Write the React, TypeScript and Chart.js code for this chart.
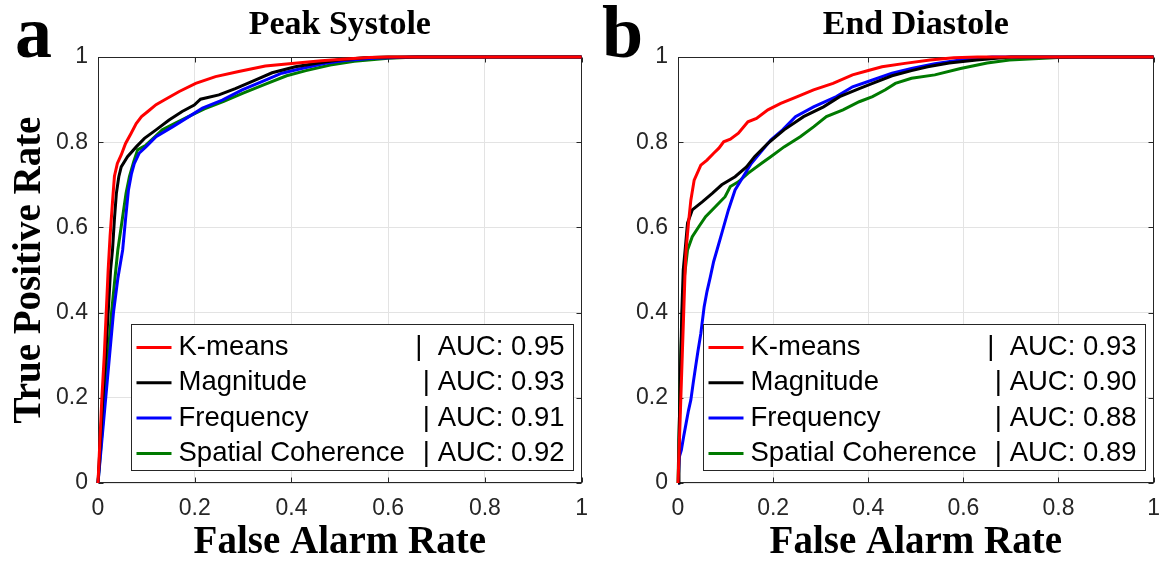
import React, { useEffect, useRef } from 'react';
import { Chart, registerables } from 'chart.js';

Chart.register(...registerables);

// ---------- data ----------
const seriesNames = ['K-means', 'Magnitude', 'Frequency', 'Spatial Coherence'];
const seriesColors = ['#ff0000', '#000000', '#0000ff', '#007a00'];
const tickValues = [0, 0.2, 0.4, 0.6, 0.8, 1];
const tickLabels = ['0', '0.2', '0.4', '0.6', '0.8', '1'];
const panelTitles = ['Peak Systole', 'End Diastole'];
const panelLetters = ['a', 'b'];
const xAxisTitle = 'False Alarm Rate';
const yAxisTitle = 'True Positive Rate';
const psAucLabels = ['|  AUC: 0.95', '| AUC: 0.93', '| AUC: 0.91', '| AUC: 0.92'];
const edAucLabels = ['|  AUC: 0.93', '| AUC: 0.90', '| AUC: 0.88', '| AUC: 0.89'];

// Peak Systole
const psKmeansFpr = [0, 0.004, 0.008, 0.013, 0.017, 0.021, 0.025, 0.03, 0.034, 0.04, 0.048, 0.057, 0.068, 0.079, 0.09, 0.103, 0.12, 0.137, 0.168, 0.202, 0.243, 0.291, 0.346, 0.401, 0.462, 0.52, 0.56, 0.6, 1];
const psKmeansTpr = [0, 0.1, 0.2, 0.3, 0.4, 0.5, 0.58, 0.66, 0.72, 0.75, 0.77, 0.797, 0.82, 0.844, 0.86, 0.872, 0.888, 0.899, 0.919, 0.938, 0.954, 0.966, 0.979, 0.985, 0.991, 0.996, 0.999, 1, 1];
const psMagFpr = [0, 0.005, 0.01, 0.016, 0.021, 0.026, 0.03, 0.034, 0.038, 0.043, 0.048, 0.061, 0.079, 0.096, 0.12, 0.147, 0.174, 0.199, 0.212, 0.25, 0.284, 0.325, 0.36, 0.408, 0.462, 0.497, 0.55, 0.6, 1];
const psMagTpr = [0, 0.1, 0.2, 0.3, 0.4, 0.5, 0.547, 0.62, 0.68, 0.719, 0.742, 0.766, 0.789, 0.809, 0.829, 0.852, 0.872, 0.887, 0.901, 0.911, 0.926, 0.946, 0.963, 0.977, 0.987, 0.993, 0.998, 1, 1];
const psFreqFpr = [0, 0.008, 0.016, 0.024, 0.032, 0.041, 0.051, 0.057, 0.063, 0.069, 0.075, 0.085, 0.099, 0.12, 0.154, 0.188, 0.216, 0.257, 0.298, 0.339, 0.38, 0.421, 0.47, 0.51, 0.57, 0.65, 1];
const psFreqTpr = [0, 0.1, 0.2, 0.3, 0.4, 0.48, 0.547, 0.62, 0.688, 0.725, 0.75, 0.774, 0.789, 0.813, 0.836, 0.86, 0.88, 0.899, 0.923, 0.942, 0.962, 0.973, 0.985, 0.992, 0.997, 1, 1];
const psSpatFpr = [0, 0.007, 0.014, 0.021, 0.028, 0.035, 0.041, 0.051, 0.058, 0.065, 0.074, 0.082, 0.099, 0.118, 0.133, 0.16, 0.19, 0.22, 0.26, 0.3, 0.345, 0.39, 0.43, 0.48, 0.53, 0.6, 0.66, 1];
const psSpatTpr = [0, 0.1, 0.2, 0.3, 0.4, 0.48, 0.547, 0.625, 0.68, 0.719, 0.755, 0.782, 0.793, 0.813, 0.829, 0.845, 0.862, 0.878, 0.896, 0.915, 0.936, 0.956, 0.968, 0.981, 0.99, 0.997, 1, 1];

// End Diastole
const edKmeansFpr = [0, 0.003, 0.006, 0.009, 0.012, 0.015, 0.017, 0.022, 0.027, 0.034, 0.048, 0.061, 0.075, 0.086, 0.096, 0.11, 0.127, 0.147, 0.165, 0.189, 0.216, 0.251, 0.285, 0.326, 0.367, 0.402, 0.429, 0.477, 0.53, 0.58, 0.63, 1];
const edKmeansTpr = [0, 0.1, 0.2, 0.3, 0.4, 0.5, 0.547, 0.61, 0.664, 0.711, 0.746, 0.758, 0.774, 0.786, 0.801, 0.807, 0.821, 0.848, 0.856, 0.876, 0.891, 0.907, 0.923, 0.938, 0.958, 0.969, 0.977, 0.985, 0.993, 0.998, 1, 1];
const edMagFpr = [0, 0.002, 0.004, 0.006, 0.008, 0.011, 0.015, 0.02, 0.03, 0.051, 0.072, 0.092, 0.12, 0.144, 0.161, 0.189, 0.223, 0.264, 0.306, 0.34, 0.381, 0.409, 0.45, 0.491, 0.525, 0.57, 0.628, 0.7, 1];
const edMagTpr = [0, 0.1, 0.2, 0.3, 0.4, 0.5, 0.547, 0.61, 0.641, 0.66, 0.68, 0.7, 0.719, 0.742, 0.766, 0.797, 0.829, 0.86, 0.883, 0.907, 0.926, 0.938, 0.956, 0.968, 0.977, 0.986, 0.993, 1, 1];
const edFreqFpr = [0, 0.001, 0.003, 0.007, 0.012, 0.017, 0.022, 0.027, 0.032, 0.037, 0.042, 0.048, 0.055, 0.061, 0.068, 0.075, 0.082, 0.092, 0.106, 0.12, 0.137, 0.154, 0.178, 0.195, 0.22, 0.247, 0.285, 0.333, 0.367, 0.409, 0.45, 0.491, 0.54, 0.6, 0.66, 1];
const edFreqTpr = [0, 0.02, 0.062, 0.077, 0.11, 0.14, 0.17, 0.195, 0.235, 0.273, 0.31, 0.351, 0.414, 0.45, 0.484, 0.52, 0.547, 0.586, 0.641, 0.688, 0.719, 0.75, 0.782, 0.805, 0.829, 0.86, 0.883, 0.907, 0.93, 0.946, 0.962, 0.973, 0.984, 0.994, 1, 1];
const edSpatFpr = [0, 0.003, 0.006, 0.009, 0.013, 0.02, 0.03, 0.044, 0.058, 0.079, 0.099, 0.11, 0.127, 0.147, 0.175, 0.195, 0.223, 0.257, 0.285, 0.312, 0.347, 0.381, 0.409, 0.436, 0.457, 0.491, 0.54, 0.594, 0.65, 0.697, 0.8, 0.85, 1];
const edSpatTpr = [0, 0.15, 0.3, 0.4, 0.48, 0.547, 0.578, 0.602, 0.625, 0.649, 0.672, 0.696, 0.707, 0.727, 0.75, 0.766, 0.789, 0.813, 0.836, 0.86, 0.876, 0.895, 0.907, 0.923, 0.938, 0.95, 0.958, 0.973, 0.986, 0.993, 0.999, 1, 1];

const psFpr = [psKmeansFpr, psMagFpr, psFreqFpr, psSpatFpr];
const psTpr = [psKmeansTpr, psMagTpr, psFreqTpr, psSpatTpr];
const edFpr = [edKmeansFpr, edMagFpr, edFreqFpr, edSpatFpr];
const edTpr = [edKmeansTpr, edMagTpr, edFreqTpr, edSpatTpr];

// ---------- styling ----------
const SANS = "'Liberation Sans', Arial, sans-serif";
const SERIF = "'Liberation Serif', 'Times New Roman', serif";
const AXIS_COLOR = '#262626';

const framePlugin = {
  id: 'frame',
  beforeDatasetsDraw(chart: any) {
    const { ctx, chartArea, scales } = chart;
    const l = Math.round(chartArea.left) + 0.5;
    const r = Math.round(chartArea.right) - 0.5;
    const t = Math.round(chartArea.top) + 0.5;
    const b = Math.round(chartArea.bottom) - 0.5;
    ctx.save();
    ctx.strokeStyle = AXIS_COLOR;
    ctx.lineWidth = 1;
    ctx.strokeRect(l, t, r - l, b - t);
    const len = 5;
    ctx.beginPath();
    scales.x.ticks.forEach((tk: any) => {
      const px = Math.round(scales.x.getPixelForValue(tk.value)) + 0.5;
      ctx.moveTo(px, b); ctx.lineTo(px, b - len);
      ctx.moveTo(px, t); ctx.lineTo(px, t + len);
    });
    scales.y.ticks.forEach((tk: any) => {
      const py = Math.round(scales.y.getPixelForValue(tk.value)) + 0.5;
      ctx.moveTo(l, py); ctx.lineTo(l + len, py);
      ctx.moveTo(r, py); ctx.lineTo(r - len, py);
    });
    ctx.stroke();
    ctx.restore();
  },
};

const aucLegendPlugin = {
  id: 'aucLegend',
  afterDatasetsDraw(chart: any, _args: any, opts: any) {
    const { ctx, chartArea } = chart;
    const W = 442, H = 146;
    const bx = Math.round(chartArea.right - 9 - W) + 0.5;
    const by = Math.round(chartArea.bottom - 13 - H) + 0.5;
    ctx.save();
    ctx.fillStyle = '#ffffff';
    ctx.fillRect(bx, by, W, H);
    ctx.strokeStyle = AXIS_COLOR;
    ctx.lineWidth = 1;
    ctx.strokeRect(bx, by, W, H);
    ctx.font = `27.5px ${SANS}`;
    ctx.textBaseline = 'middle';
    chart.data.datasets.forEach((ds: any, i: number) => {
      const cy = by + 23 + i * 35.3;
      ctx.strokeStyle = ds.borderColor;
      ctx.lineWidth = 3;
      ctx.beginPath();
      ctx.moveTo(bx + 5, cy);
      ctx.lineTo(bx + 40, cy);
      ctx.stroke();
      ctx.fillStyle = '#000000';
      ctx.textAlign = 'left';
      ctx.fillText(ds.label, bx + 47, cy);
      ctx.textAlign = 'right';
      ctx.fillText(opts.labels[i], bx + W - 9, cy);
    });
    ctx.restore();
  },
};

function makeTickScale(extra: any) {
  return {
    type: 'linear',
    min: 0,
    max: 1,
    afterBuildTicks: (s: any) => {
      s.ticks = tickValues.map((v) => ({ value: v }));
    },
    grid: { color: '#e3e3e3', lineWidth: 1, drawTicks: false },
    border: { display: false },
    ...extra,
  };
}

type PanelProps = {
  left: number;
  width: number;
  title: string;
  fprs: number[][];
  tprs: number[][];
  aucLabels: string[];
  yWidth: number;
  padRight: number;
  showYTitle: boolean;
};

function RocPanel(p: PanelProps) {
  const ref = useRef<HTMLCanvasElement>(null);
  useEffect(() => {
    const datasets = seriesNames.map((name, i) => ({
      label: name,
      data: p.fprs[i].map((x, j) => ({ x, y: p.tprs[i][j] })),
      borderColor: seriesColors[i],
      backgroundColor: seriesColors[i],
      borderWidth: 3,
      pointRadius: 0,
      tension: 0,
      fill: false,
      clip: 6,
    }));
    const chart = new Chart(ref.current as HTMLCanvasElement, {
      type: 'line',
      data: { datasets },
      plugins: [framePlugin, aucLegendPlugin],
      options: {
        responsive: false,
        animation: false,
        layout: { padding: { left: 0, right: p.padRight, top: 0, bottom: 0 } },
        plugins: {
          legend: { display: false },
          tooltip: { enabled: false },
          title: {
            display: true,
            text: p.title,
            fullSize: false,
            color: '#000000',
            font: { family: SERIF, size: 34, weight: 'bold', lineHeight: 1.2 },
            padding: { top: 5, bottom: 11.2 },
          },
          aucLegend: { labels: p.aucLabels },
        } as any,
        scales: {
          x: makeTickScale({
            afterFit: (s: any) => {
              s.height = 79;
            },
            ticks: {
              callback: (_v: any, i: number) => tickLabels[i],
              font: { family: SANS, size: 23 },
              color: AXIS_COLOR,
              autoSkip: false,
              maxRotation: 0,
              padding: 12,
            },
            title: {
              display: true,
              text: xAxisTitle,
              color: '#000000',
              font: { family: SERIF, size: 39, weight: 'bold', lineHeight: 1 },
              padding: { top: 0, bottom: 0 },
            },
          }),
          y: makeTickScale({
            afterFit: (s: any) => {
              s.width = p.yWidth;
            },
            ticks: {
              callback: (_v: any, i: number) => tickLabels[i],
              font: { family: SANS, size: 23 },
              color: AXIS_COLOR,
              autoSkip: false,
              padding: 10,
            },
            title: {
              display: p.showYTitle,
              text: yAxisTitle,
              color: '#000000',
              font: { family: SERIF, size: 39, weight: 'bold', lineHeight: 1 },
              padding: { top: 10.5, bottom: 0 },
            },
          }),
        } as any,
      },
    } as any);
    return () => chart.destroy();
  }, []);
  return (
    <canvas
      ref={ref}
      width={p.width}
      height={562}
      style={{ position: 'absolute', left: p.left, top: 0, width: p.width, height: 562 }}
    />
  );
}

const letterStyle: React.CSSProperties = {
  position: 'absolute',
  top: -5,
  fontFamily: SERIF,
  fontWeight: 'bold',
  fontSize: 74,
  lineHeight: '74px',
  color: '#000',
  margin: 0,
};

export default function App() {
  return (
    <div
      style={{
        position: 'absolute',
        left: 0,
        top: 0,
        width: 1172,
        height: 562,
        background: '#ffffff',
        overflow: 'hidden',
      }}
    >
      <RocPanel
        left={0}
        width={600}
        title={panelTitles[0]}
        fprs={psFpr}
        tprs={psTpr}
        aucLabels={psAucLabels}
        yWidth={98}
        padRight={16}
        showYTitle={true}
      />
      <RocPanel
        left={600}
        width={572}
        title={panelTitles[1]}
        fprs={edFpr}
        tprs={edTpr}
        aucLabels={edAucLabels}
        yWidth={78}
        padRight={9}
        showYTitle={false}
      />
      <div style={{ ...letterStyle, left: 15 }}>{panelLetters[0]}</div>
      <div style={{ ...letterStyle, left: 602 }}>{panelLetters[1]}</div>
    </div>
  );
}
